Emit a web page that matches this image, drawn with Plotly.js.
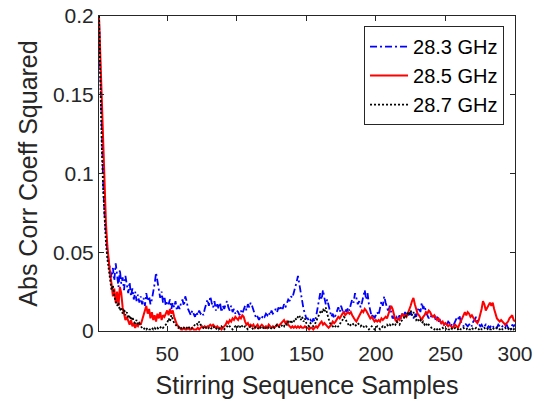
<!DOCTYPE html>
<html>
<head>
<meta charset="utf-8">
<script src="https://cdn.plot.ly/plotly-3.0.1.min.js"></script>
<style>html,body{margin:0;padding:0;background:#fff;}#chart{width:546px;height:405px;}</style>
</head>
<body>
<div id="chart"></div>
<script>
// Stirring sequence sample index 1..300
const samples = [];
for (let i = 1; i <= 300; i++) samples.push(i);

const seriesNames = ["28.3 GHz", "28.5 GHz", "28.7 GHz"];

const ghz283 = [
0.200,0.158,0.122,0.095,0.074,0.060,0.050,0.044,0.038,0.034,
0.040,0.032,0.043,0.036,0.028,0.039,0.030,0.034,0.026,0.035,
0.029,0.024,0.031,0.022,0.027,0.020,0.025,0.019,0.023,0.018,
0.022,0.017,0.021,0.016,0.024,0.019,0.022,0.017,0.020,0.024,
0.030,0.037,0.032,0.027,0.021,0.025,0.018,0.022,0.016,0.019,
0.017,0.020,0.014,0.018,0.015,0.019,0.013,0.016,0.014,0.018,
0.020,0.016,0.022,0.019,0.014,0.012,0.010,0.013,0.011,0.009,
0.012,0.010,0.013,0.011,0.012,0.010,0.014,0.017,0.020,0.016,
0.022,0.018,0.015,0.019,0.013,0.017,0.014,0.018,0.012,0.016,
0.014,0.017,0.019,0.015,0.013,0.016,0.012,0.014,0.011,0.013,
0.012,0.010,0.013,0.011,0.014,0.016,0.013,0.017,0.015,0.018,
0.016,0.013,0.010,0.008,0.009,0.007,0.009,0.008,0.010,0.009,
0.011,0.010,0.012,0.010,0.013,0.011,0.012,0.014,0.012,0.015,
0.013,0.016,0.014,0.017,0.015,0.018,0.020,0.019,0.022,0.021,
0.024,0.028,0.031,0.035,0.029,0.025,0.020,0.014,0.011,0.008,
0.008,0.006,0.007,0.005,0.008,0.006,0.009,0.014,0.019,0.024,
0.020,0.026,0.021,0.017,0.020,0.016,0.012,0.009,0.011,0.008,
0.010,0.013,0.015,0.012,0.016,0.013,0.011,0.014,0.012,0.015,
0.013,0.017,0.020,0.018,0.024,0.021,0.017,0.019,0.015,0.018,
0.022,0.026,0.020,0.024,0.017,0.012,0.009,0.011,0.008,0.010,
0.012,0.010,0.014,0.019,0.016,0.022,0.018,0.015,0.012,0.016,
0.011,0.008,0.009,0.007,0.009,0.008,0.010,0.008,0.011,0.009,
0.012,0.010,0.011,0.009,0.012,0.010,0.008,0.011,0.009,0.013,
0.015,0.012,0.018,0.014,0.016,0.012,0.010,0.008,0.010,0.009,
0.008,0.010,0.007,0.009,0.006,0.007,0.005,0.006,0.004,0.005,
0.004,0.006,0.005,0.003,0.005,0.004,0.006,0.008,0.007,0.010,
0.006,0.004,0.003,0.005,0.004,0.003,0.004,0.005,0.003,0.006,
0.007,0.009,0.006,0.004,0.003,0.004,0.002,0.003,0.004,0.002,
0.003,0.002,0.004,0.003,0.002,0.003,0.002,0.004,0.003,0.002,
0.003,0.002,0.003,0.004,0.002,0.003,0.001,0.004,0.003,0.004
];

const ghz285 = [
0.200,0.175,0.145,0.112,0.088,0.068,0.054,0.044,0.036,0.030,
0.022,0.027,0.018,0.025,0.016,0.028,0.024,0.015,0.010,0.007,
0.009,0.006,0.004,0.007,0.003,0.005,0.002,0.004,0.003,0.005,
0.004,0.007,0.010,0.013,0.016,0.011,0.014,0.008,0.012,0.007,
0.010,0.006,0.011,0.008,0.012,0.007,0.010,0.009,0.011,0.013,
0.010,0.014,0.011,0.013,0.009,0.006,0.004,0.003,0.002,0.001,
0.001,0.002,0.001,0.001,0.002,0.001,0.001,0.002,0.001,0.001,
0.001,0.002,0.001,0.002,0.003,0.002,0.003,0.002,0.003,0.003,
0.004,0.003,0.004,0.003,0.002,0.003,0.002,0.002,0.001,0.002,
0.003,0.004,0.006,0.005,0.007,0.006,0.008,0.007,0.009,0.008,
0.007,0.009,0.008,0.010,0.009,0.006,0.004,0.005,0.003,0.004,
0.003,0.004,0.002,0.003,0.004,0.002,0.003,0.004,0.003,0.002,
0.003,0.002,0.004,0.003,0.002,0.003,0.002,0.003,0.004,0.003,
0.004,0.005,0.006,0.007,0.005,0.006,0.004,0.003,0.002,0.003,
0.002,0.003,0.002,0.003,0.002,0.003,0.002,0.002,0.003,0.002,
0.002,0.001,0.002,0.002,0.001,0.002,0.003,0.002,0.004,0.005,
0.006,0.004,0.005,0.004,0.003,0.002,0.003,0.004,0.006,0.005,
0.006,0.008,0.009,0.008,0.010,0.011,0.012,0.010,0.011,0.012,
0.011,0.012,0.010,0.008,0.007,0.006,0.008,0.009,0.011,0.013,
0.012,0.014,0.013,0.011,0.009,0.008,0.009,0.007,0.006,0.007,
0.006,0.007,0.006,0.008,0.007,0.008,0.009,0.008,0.011,0.014,
0.016,0.014,0.010,0.007,0.006,0.008,0.007,0.009,0.011,0.009,
0.010,0.009,0.011,0.013,0.016,0.019,0.021,0.017,0.014,0.011,
0.010,0.008,0.007,0.009,0.010,0.012,0.011,0.013,0.012,0.010,
0.009,0.010,0.008,0.007,0.008,0.006,0.005,0.006,0.004,0.005,
0.004,0.003,0.004,0.003,0.002,0.003,0.004,0.003,0.002,0.004,
0.006,0.009,0.011,0.012,0.010,0.012,0.011,0.009,0.010,0.008,
0.007,0.006,0.005,0.007,0.010,0.014,0.019,0.017,0.013,0.015,
0.017,0.018,0.016,0.018,0.014,0.010,0.008,0.007,0.006,0.007,
0.006,0.005,0.004,0.005,0.006,0.008,0.009,0.010,0.007,0.006
];

const ghz287 = [
0.200,0.155,0.118,0.090,0.070,0.056,0.046,0.038,0.031,0.026,
0.029,0.022,0.019,0.016,0.018,0.013,0.015,0.011,0.014,0.010,
0.012,0.008,0.010,0.007,0.009,0.006,0.005,0.007,0.004,0.005,
0.003,0.002,0.001,0.002,0.001,0.002,0.001,0.001,0.002,0.001,
0.002,0.001,0.002,0.001,0.002,0.003,0.002,0.003,0.004,0.005,
0.008,0.006,0.010,0.007,0.005,0.004,0.003,0.002,0.003,0.002,
0.001,0.002,0.001,0.002,0.003,0.002,0.001,0.002,0.003,0.004,
0.005,0.004,0.006,0.004,0.003,0.002,0.003,0.002,0.001,0.002,
0.001,0.002,0.003,0.002,0.001,0.002,0.001,0.002,0.003,0.002,
0.001,0.002,0.003,0.002,0.003,0.002,0.001,0.002,0.003,0.002,
0.003,0.002,0.004,0.003,0.002,0.003,0.002,0.001,0.002,0.003,
0.002,0.001,0.002,0.003,0.002,0.001,0.002,0.003,0.002,0.001,
0.002,0.003,0.002,0.001,0.002,0.003,0.002,0.003,0.004,0.003,
0.002,0.003,0.004,0.003,0.005,0.004,0.006,0.005,0.007,0.005,
0.006,0.008,0.007,0.009,0.010,0.007,0.009,0.006,0.008,0.005,
0.004,0.003,0.005,0.004,0.003,0.004,0.006,0.008,0.010,0.012,
0.011,0.014,0.012,0.015,0.011,0.008,0.005,0.004,0.003,0.002,
0.003,0.002,0.003,0.004,0.006,0.007,0.009,0.008,0.006,0.004,
0.003,0.004,0.005,0.004,0.003,0.004,0.005,0.004,0.003,0.004,
0.003,0.002,0.003,0.002,0.001,0.002,0.003,0.002,0.001,0.002,
0.003,0.002,0.001,0.002,0.003,0.002,0.003,0.004,0.003,0.004,
0.003,0.004,0.005,0.004,0.006,0.005,0.004,0.006,0.007,0.008,
0.010,0.009,0.012,0.011,0.013,0.010,0.012,0.009,0.007,0.008,
0.006,0.007,0.005,0.006,0.004,0.005,0.003,0.004,0.003,0.002,
0.002,0.001,0.002,0.001,0.002,0.001,0.001,0.002,0.001,0.001,
0.002,0.001,0.001,0.002,0.001,0.001,0.002,0.001,0.001,0.002,
0.001,0.001,0.002,0.001,0.001,0.002,0.001,0.001,0.002,0.001,
0.001,0.002,0.001,0.001,0.002,0.001,0.001,0.002,0.001,0.001,
0.002,0.001,0.001,0.002,0.001,0.001,0.002,0.001,0.001,0.002,
0.001,0.001,0.002,0.001,0.001,0.002,0.001,0.002,0.001,0.002
];

const xTickVals = [50, 100, 150, 200, 250, 300];
const yTickVals = [0, 0.05, 0.1, 0.15, 0.2];
const yTickText = ["0", "0.05", "0.1", "0.15", "0.2"];

const FONT = "Arial, 'Liberation Sans', Helvetica, sans-serif";
const INK = "#262626";

const traces = [
  {x: samples, y: ghz283, name: seriesNames[0], type: "scatter", mode: "lines",
   line: {color: "#0000ff", width: 1.8, dash: "7px,3px,2px,3px"}},
  {x: samples, y: ghz285, name: seriesNames[1], type: "scatter", mode: "lines",
   line: {color: "#ff0000", width: 2}},
  {x: samples, y: ghz287, name: seriesNames[2], type: "scatter", mode: "lines",
   line: {color: "#000000", width: 1.8, dash: "2px,2px"}}
];

const axisCommon = {
  showline: true, linecolor: INK, linewidth: 1, mirror: "ticks",
  ticks: "inside", ticklen: 5, tickwidth: 1, tickcolor: INK,
  showgrid: false, zeroline: false, automargin: false,
  tickfont: {family: FONT, size: 21, color: INK}
};

const layout = {
  width: 546, height: 405,
  margin: {l: 99, r: 31, t: 16, b: 74, pad: 0},
  paper_bgcolor: "#ffffff", plot_bgcolor: "#ffffff",
  font: {family: FONT, color: INK},
  showlegend: true,
  xaxis: Object.assign({}, axisCommon, {
    range: [1, 300], tickvals: xTickVals, ticklabelstandoff: 4,
    title: {text: "Stirring Sequence Samples", font: {family: FONT, size: 25, color: INK}, standoff: 12}
  }),
  yaxis: Object.assign({}, axisCommon, {
    range: [0, 0.2], tickvals: yTickVals, ticktext: yTickText,
    title: {text: "Abs Corr Coeff Squared", font: {family: FONT, size: 25, color: INK}, standoff: 8}
  }),
  legend: {
    x: 0.9736, y: 0.968, xanchor: "right", yanchor: "top",
    bgcolor: "#ffffff", bordercolor: INK, borderwidth: 1,
    font: {family: FONT, size: 20, color: "#000000"},
    itemwidth: 38, tracegroupgap: 0
  }
};

Plotly.newPlot("chart", traces, layout, {displayModeBar: false, staticPlot: true});
</script>
</body>
</html>
